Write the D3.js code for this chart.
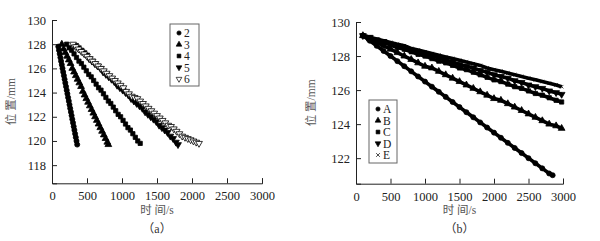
<!DOCTYPE html>
<html>
<head>
<meta charset="utf-8">
<script src="https://cdn.jsdelivr.net/npm/d3@7"></script>
<style>
  body { margin: 0; background: #fff; }
  svg { display: block; }
</style>
</head>
<body>
<svg id="chart" width="600" height="241"></svg>
<script>
// panel (a): [time s, position mm]
let s2 = [[90,127.8],[100,127.5],[110,127.2],[120,126.9],[130,126.6],[140,126.3],[150,126.0],[160,125.7],[170,125.4],[180,125.1],[190,124.8],[200,124.5],[210,124.2],[220,123.9],[230,123.6],[240,123.3],[250,123.0],[260,122.7],[270,122.4],[280,122.1],[290,121.8],[300,121.5],[310,121.2],[320,120.9],[330,120.6],[340,120.3],[350,120.0],[360,119.7]]
let s3 = [[140,128.0],[165,127.6],[190,127.3],[215,127.0],[240,126.7],[265,126.4],[290,126.0],[315,125.7],[340,125.4],[365,125.1],[390,124.8],[415,124.5],[440,124.1],[465,123.8],[490,123.5],[515,123.2],[540,122.9],[565,122.6],[590,122.3],[615,122.0],[640,121.7],[665,121.4],[690,121.1],[715,120.8],[740,120.5],[765,120.2],[790,119.9],[805,119.7]]
let s4 = [[210,128.0],[245,127.7],[280,127.5],[315,127.2],[350,126.9],[385,126.6],[420,126.4],[455,126.1],[490,125.8],[525,125.5],[560,125.3],[595,125.0],[630,124.7],[665,124.4],[700,124.2],[735,123.9],[770,123.6],[805,123.3],[840,123.1],[875,122.8],[910,122.5],[945,122.2],[980,122.0],[1015,121.7],[1050,121.4],[1085,121.1],[1120,120.9],[1155,120.6],[1190,120.3],[1225,120.0],[1260,119.8]]
let s5 = [[330,127.9],[370,127.7],[410,127.5],[450,127.3],[490,127.1],[530,126.8],[570,126.6],[610,126.4],[650,126.2],[690,126.0],[730,125.7],[770,125.5],[810,125.3],[850,125.1],[890,124.9],[930,124.6],[970,124.4],[1010,124.2],[1050,124.0],[1090,123.8],[1130,123.5],[1170,123.3],[1210,123.1],[1250,122.9],[1290,122.7],[1330,122.4],[1370,122.2],[1410,122.0],[1450,121.8],[1490,121.6],[1530,121.3],[1570,121.1],[1610,120.9],[1650,120.7],[1690,120.4],[1730,120.2],[1770,119.9],[1800,119.7]]
let s6 = [[300,128.0],[340,127.8],[380,127.6],[420,127.4],[460,127.2],[500,127.0],[540,126.8],[580,126.6],[620,126.4],[660,126.2],[700,126.0],[740,125.8],[780,125.6],[820,125.4],[860,125.2],[900,125.0],[940,124.8],[980,124.6],[1020,124.4],[1060,124.1],[1100,123.9],[1140,123.7],[1180,123.6],[1220,123.5],[1260,123.3],[1300,123.1],[1340,122.9],[1380,122.7],[1420,122.5],[1460,122.3],[1500,122.1],[1540,121.9],[1580,121.7],[1620,121.5],[1660,121.3],[1700,121.2],[1740,121.0],[1780,120.8],[1820,120.6],[1860,120.4],[1900,120.3],[1940,120.2],[1980,120.1],[2020,120.0],[2060,119.9],[2100,119.8]]

// panel (b)
let sA = [[100,129.2],[200,128.9],[300,128.6],[400,128.3],[500,128.0],[600,127.7],[700,127.4],[800,127.1],[900,126.8],[1000,126.5],[1100,126.2],[1200,125.9],[1300,125.6],[1400,125.3],[1500,125.0],[1600,124.7],[1700,124.4],[1800,124.1],[1900,123.8],[2000,123.5],[2100,123.2],[2200,122.9],[2300,122.6],[2400,122.3],[2500,122.0],[2600,121.7],[2700,121.4],[2800,121.1],[2850,121.0]]
let sB = [[100,129.2],[200,129.0],[300,128.8],[400,128.6],[500,128.4],[600,128.2],[700,128.0],[800,127.8],[900,127.6],[1000,127.4],[1100,127.3],[1200,127.1],[1300,126.9],[1400,126.7],[1500,126.5],[1600,126.3],[1700,126.1],[1800,125.9],[1900,125.7],[2000,125.5],[2100,125.4],[2200,125.2],[2300,125.0],[2400,124.8],[2500,124.6],[2600,124.4],[2700,124.2],[2800,124.0],[2900,123.9],[2980,123.75]]
let sC = [[100,129.2],[200,129.05],[300,128.9],[400,128.8],[500,128.65],[600,128.5],[700,128.4],[800,128.25],[900,128.1],[1000,128.0],[1100,127.85],[1200,127.7],[1300,127.6],[1400,127.45],[1500,127.3],[1600,127.2],[1700,127.05],[1800,126.9],[1900,126.75],[2000,126.6],[2100,126.5],[2200,126.35],[2300,126.2],[2400,126.1],[2500,125.95],[2600,125.8],[2700,125.7],[2800,125.55],[2900,125.4],[2980,125.3]]
let sD = [[100,129.2],[200,129.1],[300,128.95],[400,128.85],[500,128.7],[600,128.6],[700,128.5],[800,128.35],[900,128.25],[1000,128.1],[1100,128.0],[1200,127.9],[1300,127.75],[1400,127.65],[1500,127.5],[1600,127.4],[1700,127.3],[1800,127.15],[1900,127.05],[2000,126.9],[2100,126.8],[2200,126.7],[2300,126.55],[2400,126.45],[2500,126.3],[2600,126.2],[2700,126.1],[2800,125.95],[2900,125.85],[2980,125.75]]
let sE = [[100,129.2],[200,129.1],[300,129.0],[400,128.9],[500,128.8],[600,128.7],[700,128.6],[800,128.45],[900,128.35],[1000,128.25],[1100,128.15],[1200,128.05],[1300,127.95],[1400,127.85],[1500,127.75],[1600,127.65],[1700,127.55],[1800,127.45],[1900,127.3],[2000,127.2],[2100,127.1],[2200,127.0],[2300,126.9],[2400,126.8],[2500,126.7],[2600,126.6],[2700,126.5],[2800,126.4],[2900,126.3],[2980,126.2]]

let xTicks = [0, 500, 1000, 1500, 2000, 2500, 3000]
let yTicksA = [118, 120, 122, 124, 126, 128, 130]
let yTicksB = [122, 124, 126, 128, 130]
let namesA = ['2', '3', '4', '5', '6']
let namesB = ['A', 'B', 'C', 'D', 'E']

const serif = "'Times New Roman', 'Liberation Serif', Times, serif"
const cjk = "'Times New Roman', 'Liberation Serif', 'Noto Sans CJK SC', serif"

let svg = d3.select('#chart')

// x mark drawn as two thin strokes
const symbolX = {
    draw(ctx, size) {
        const r = Math.sqrt(size) / 2
        ctx.moveTo(-r, -r); ctx.lineTo(r, r)
        ctx.moveTo(r, -r); ctx.lineTo(-r, r)
    }
}

// marker styles for the five series of each panel
const markers = [
    { type: d3.symbolCircle, size: 20, rot: 0, fill: '#000', stroke: '#000' },
    { type: d3.symbolTriangle, size: 20, rot: 0, fill: '#000', stroke: '#000' },
    { type: d3.symbolSquare, size: 18, rot: 0, fill: '#000', stroke: '#000' },
    { type: d3.symbolTriangle, size: 20, rot: 180, fill: '#000', stroke: '#000' },
    { type: d3.symbolTriangle, size: 20, rot: 180, fill: '#fff', stroke: '#000' }
]
const markerX = { type: symbolX, size: 12, rot: 0, fill: 'none', stroke: '#000' }

function drawPanel(p) {
    let x = d3.scaleLinear().domain([0, 3000]).range(p.xr)
    let y = d3.scaleLinear().domain(p.yd).range(p.yr)
    let g = svg.append('g')

    // axes with inward ticks
    let xAxis = d3.axisBottom(x).tickValues(xTicks).tickSize(-5).tickPadding(8).tickFormat(d3.format('d'))
    let xMinor = d3.axisBottom(x).tickValues(d3.range(0, 3001, 100)).tickSize(-2.5).tickFormat('')
    let yAxis = d3.axisLeft(y).tickValues(p.yTicks).tickSize(-5).tickPadding(6)
    let yMinor = d3.axisLeft(y).tickValues(d3.range(p.yd[0] + 0.5, 130, 0.5)).tickSize(-2.5).tickFormat('')

    let gx = g.append('g').attr('transform', `translate(0,${p.yr[0]})`)
    gx.call(xMinor)
    gx.call(xAxis)
    let gy = g.append('g').attr('transform', `translate(${p.xr[0]},0)`)
    gy.call(yMinor)
    gy.call(yAxis)
    g.selectAll('g').attr('font-family', null)
    g.selectAll('.domain').attr('stroke', '#222').attr('stroke-width', 1)
    g.selectAll('.tick line').attr('stroke', '#222')
    g.selectAll('.tick text')
        .attr('fill', '#222')
        .attr('font-family', serif)
        .style('font-family', serif)
        .style('font-size', '12.5px')

    // series
    p.series.forEach((s, i) => {
        let m = p.marks[i]
        if (p.joined) {
            g.append('path')
                .datum(s)
                .attr('d', d3.line().x(d => x(d[0])).y(d => y(d[1])))
                .attr('fill', 'none')
                .attr('stroke', '#000')
                .attr('stroke-width', 3.6)
        }
        g.selectAll(null)
            .data(s)
            .enter()
            .append('path')
            .attr('d', d3.symbol().type(m.type).size(m.size))
            .attr('transform', d => `translate(${x(d[0])},${y(d[1])}) rotate(${m.rot})`)
            .attr('fill', m.fill)
            .attr('stroke', m.stroke)
            .attr('stroke-width', 0.8)
    })

    // legend
    let lg = g.append('g')
    lg.append('rect')
        .attr('x', p.legend[0]).attr('y', p.legend[1])
        .attr('width', p.legend[2]).attr('height', p.legend[3])
        .attr('fill', '#fff').attr('stroke', '#666').attr('stroke-width', 1)
    p.names.forEach((name, i) => {
        let m = p.marks[i]
        let ly = p.legend[1] + 9 + i * 11.5
        lg.append('path')
            .attr('d', d3.symbol().type(m.type).size(14))
            .attr('transform', `translate(${p.legend[0] + 9},${ly}) rotate(${m.rot})`)
            .attr('fill', m.fill).attr('stroke', m.stroke).attr('stroke-width', 0.7)
        lg.append('text')
            .attr('x', p.legend[0] + 14).attr('y', ly + 4)
            .attr('fill', '#222')
            .style('font-family', serif)
            .style('font-size', '11.5px')
            .text(name)
    })

    // axis titles and caption
    let cx = (p.xr[0] + p.xr[1]) / 2
    g.append('text')
        .attr('transform', `translate(${p.xr[0] - p.titleOff},${(p.yr[0] + p.yr[1]) / 2}) rotate(-90)`)
        .attr('text-anchor', 'middle')
        .attr('fill', '#555')
        .style('font-family', cjk)
        .style('font-size', '11.5px')
        .text('位 置/mm')
    g.append('text')
        .attr('x', cx).attr('y', 214)
        .attr('text-anchor', 'middle')
        .attr('fill', '#555')
        .style('font-family', cjk)
        .style('font-size', '11.5px')
        .text('时 间/s')
    g.append('text')
        .attr('x', cx).attr('y', 233)
        .attr('text-anchor', 'middle')
        .attr('fill', '#333')
        .style('font-family', cjk)
        .style('font-size', '12px')
        .text(p.caption)
}

drawPanel({
    xr: [52, 262], yd: [116.5, 130], yr: [183.3, 20], yTicks: yTicksA,
    series: [s2, s3, s4, s5, s6], marks: markers, names: namesA,
    legend: [170, 24, 29, 62], caption: '（a）', joined: false, titleOff: 37
})
drawPanel({
    xr: [356, 563], yd: [120.5, 130], yr: [183.7, 22], yTicks: yTicksB,
    series: [sA, sB, sC, sD, sE], marks: markers.slice(0, 4).concat([markerX]), names: namesB,
    legend: [369, 100, 28, 63], caption: '（b）', joined: true, titleOff: 41
})
</script>
</body>
</html>
